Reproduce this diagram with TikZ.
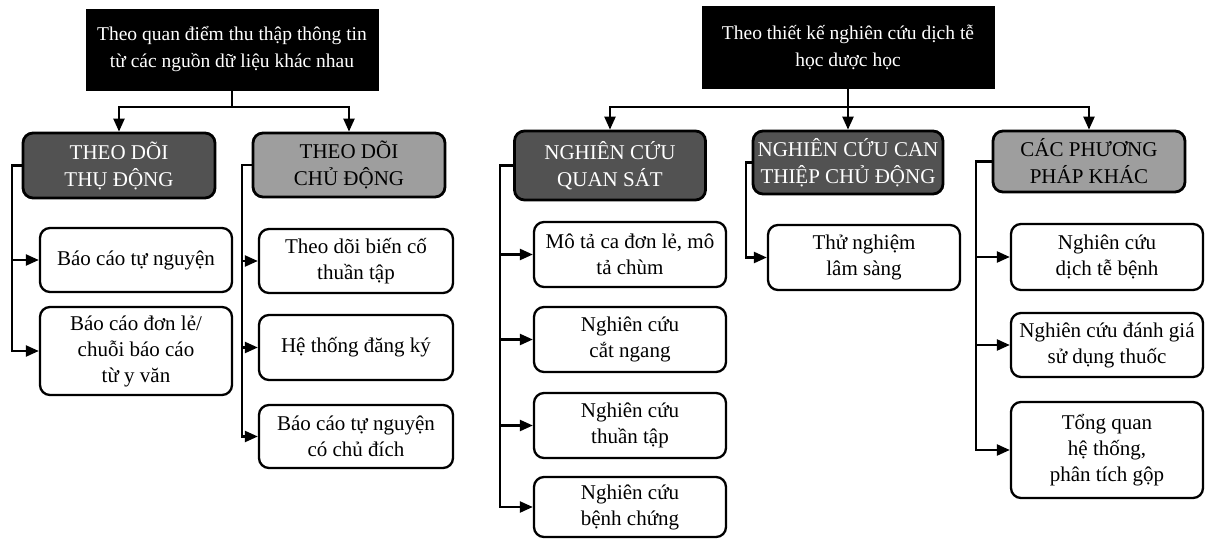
\documentclass[tikz,border=0pt]{standalone}
\usepackage{fontspec}
\setmainfont{Liberation Serif}
\usetikzlibrary{arrows.meta}
\tikzset{
  headbox/.style={draw=black, fill=black, text=white, align=center, inner sep=0pt,
    font=\fontsize{19.5}{27}\selectfont},
  groupbox/.style={draw=black, line width=2.8pt, rounded corners=10pt, align=center,
    inner sep=0pt, font=\fontsize{21}{27}\selectfont},
  darkgroup/.style={groupbox, fill=black!68, text=white},
  lightgroup/.style={groupbox, fill=black!38, text=black},
  leafbox/.style={draw=black, line width=2.3pt, rounded corners=10pt, fill=white,
    align=center, inner sep=0pt, font=\fontsize{21}{26}\selectfont},
  link/.style={line width=2.3pt},
  arr/.style={link, -{Triangle[length=13pt,width=11pt]}},
}
\begin{document}
\begin{tikzpicture}[x=1pt, y=-1pt]
\useasboundingbox (0,0) rectangle (1211,540);
\fill[white] (0,0) rectangle (1211,540);

% top-level headings
\node[headbox, minimum width=292pt, minimum height=81pt] (T1) at (232,49.5)
  {Theo quan điểm thu thập thông tin\\từ các nguồn dữ liệu khác nhau};
\node[headbox, minimum width=292pt, minimum height=82pt] (T2) at (848,47)
  {Theo thiết kế nghiên cứu dịch tễ\\học dược học};

% second level
\node[darkgroup,  minimum width=192pt, minimum height=65pt] (A1) at (119,165.5) {THEO DÕI\\THỤ ĐỘNG};
\node[lightgroup, minimum width=192pt, minimum height=64pt] (A2) at (349,165) {THEO DÕI\\CHỦ ĐỘNG};
\node[darkgroup,  minimum width=191pt, minimum height=69pt] (B1) at (610,165.5) {NGHIÊN CỨU\\QUAN SÁT};
\node[darkgroup,  minimum width=190pt, minimum height=63pt] (B2) at (848,162.5) {NGHIÊN CỨU CAN\\THIỆP CHỦ ĐỘNG};
\node[lightgroup, minimum width=192pt, minimum height=61pt] (B3) at (1089,161.5) {CÁC PHƯƠNG\\PHÁP KHÁC};

% leaves
\node[leafbox, minimum width=192pt, minimum height=64pt] (C1) at (136,260) {Báo cáo tự nguyện};
\node[leafbox, minimum width=192pt, minimum height=88pt] (C2) at (136,351) {Báo cáo đơn lẻ/\\chuỗi báo cáo\\từ y văn};
\node[leafbox, minimum width=194pt, minimum height=64pt] (D1) at (356,261) {Theo dõi biến cố\\thuần tập};
\node[leafbox, minimum width=194pt, minimum height=65pt] (D2) at (356,347.5) {Hệ thống đăng ký};
\node[leafbox, minimum width=194pt, minimum height=63pt] (D3) at (356,436.5) {Báo cáo tự nguyện\\có chủ đích};
\node[leafbox, minimum width=192pt, minimum height=65pt] (E1) at (630,254.5) {Mô tả ca đơn lẻ, mô\\tả chùm};
\node[leafbox, minimum width=192pt, minimum height=65pt] (E2) at (630,339.5) {Nghiên cứu\\cắt ngang};
\node[leafbox, minimum width=192pt, minimum height=65pt] (E3) at (630,425.5) {Nghiên cứu\\thuần tập};
\node[leafbox, minimum width=192pt, minimum height=60pt] (E4) at (630,507) {Nghiên cứu\\bệnh chứng};
\node[leafbox, minimum width=192pt, minimum height=65pt] (F1) at (864,257.5) {Thử nghiệm\\lâm sàng};
\node[leafbox, minimum width=192pt, minimum height=66pt] (G1) at (1107,257) {Nghiên cứu\\dịch tễ bệnh};
\node[leafbox, minimum width=192pt, minimum height=64pt] (G2) at (1107,345) {Nghiên cứu đánh giá\\sử dụng thuốc};
\node[leafbox, minimum width=192pt, minimum height=96pt] (G3) at (1107,450) {Tổng quan\\hệ thống,\\phân tích gộp};

% hubs below the headings
\coordinate (h1) at (232,107);
\coordinate (h2) at (848,107);
\draw[link] (T1.south) -- (h1);
\draw[link] (T2.south) -- (h2);
\foreach \c in {A1,A2} \draw[arr] (h1) -| (\c.north);
\foreach \c in {B1,B2,B3} \draw[arr] (h2) -| (\c.north);

% vertical spines on the left of each group
\coordinate (sA1) at (12,0);
\coordinate (sA2) at (242,0);
\coordinate (sB1) at (500,0);
\coordinate (sB2) at (746,0);
\coordinate (sB3) at (976,0);
\foreach \p/\s/\c in {A1/sA1/C1, A1/sA1/C2,
                      A2/sA2/D1, A2/sA2/D2, A2/sA2/D3,
                      B1/sB1/E1, B1/sB1/E2, B1/sB1/E3, B1/sB1/E4,
                      B2/sB2/F1,
                      B3/sB3/G1, B3/sB3/G2, B3/sB3/G3}
  \draw[arr] (\p.west) -| (\s |- \c.west) -- (\c.west);
\end{tikzpicture}
\end{document}
